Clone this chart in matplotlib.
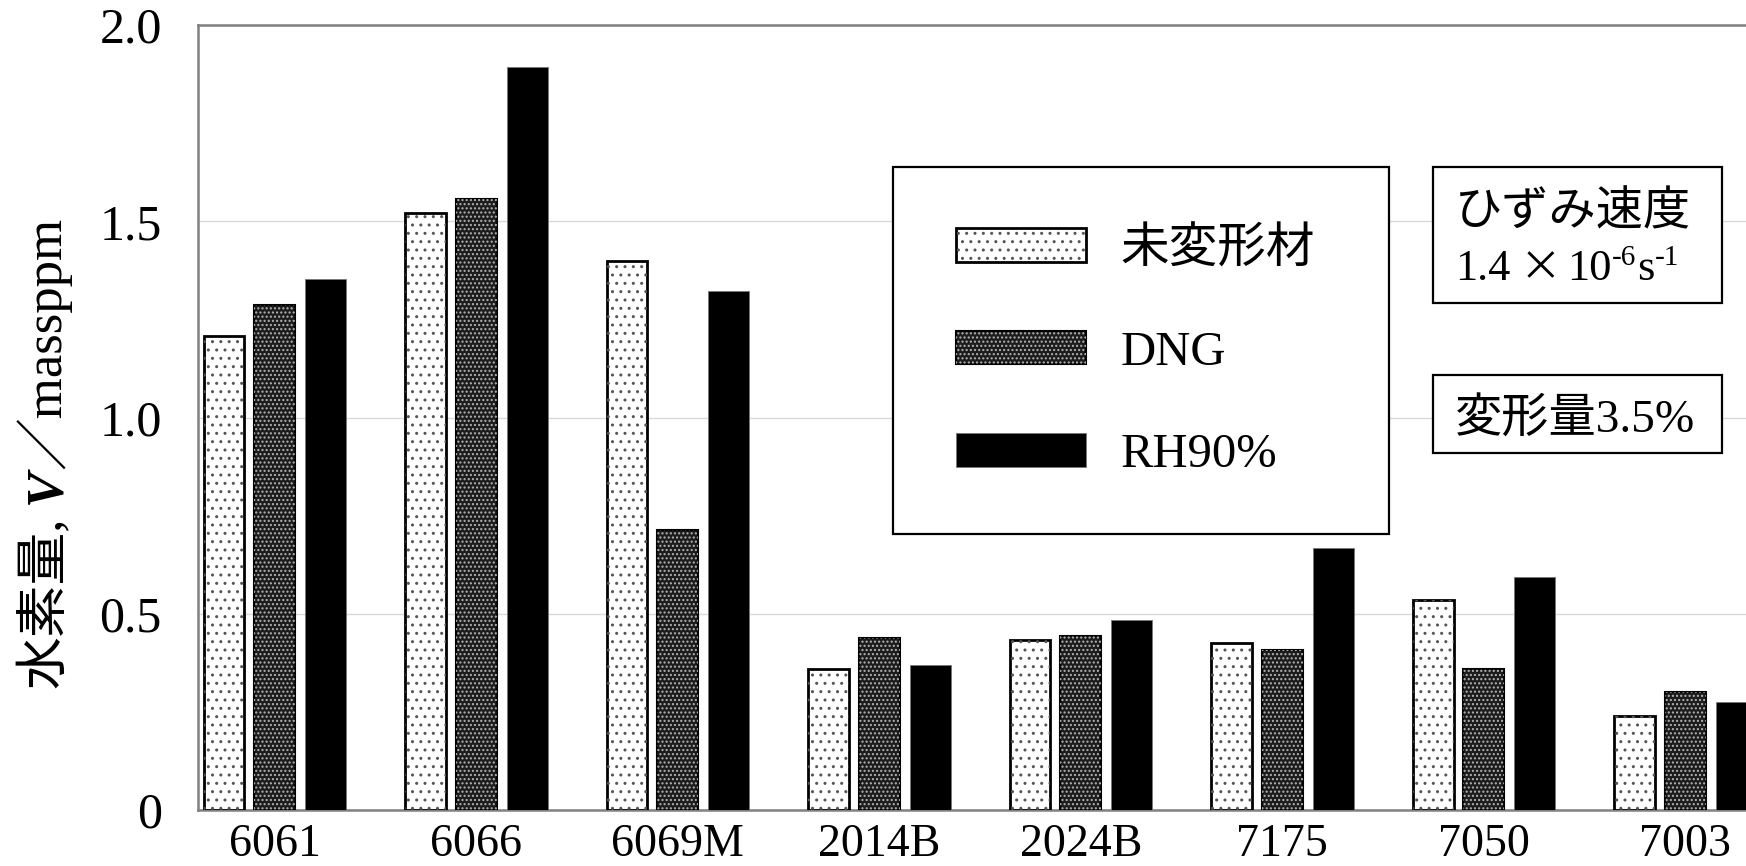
import numpy as np
import matplotlib
matplotlib.use("Agg")
import matplotlib.pyplot as plt
from matplotlib.patches import Rectangle
from matplotlib.legend_handler import HandlerTuple

# fonts: Times-like serif for latin, gothic for japanese
plt.rcParams['font.family'] = ['Liberation Serif', 'Noto Sans CJK JP']
plt.rcParams['hatch.linewidth'] = 1.0

# data
alloys = ['6061', '6066', '6069M', '2014B', '2024B', '7175', '7050', '7003']
undeformed = [1.207, 1.520, 1.400, 0.358, 0.434, 0.426, 0.535, 0.240]
dng = [1.286, 1.557, 0.713, 0.439, 0.443, 0.408, 0.359, 0.301]
rh90 = [1.354, 1.892, 1.323, 0.369, 0.483, 0.667, 0.593, 0.276]
series_names = ['未変形材', 'DNG', 'RH90%']
yticks = [0, 0.5, 1.0, 1.5, 2.0]
ytick_labels = ['0', '0.5', '1.0', '1.5', '2.0']

W, H = 1746, 866

def fx(px):
    return px / W

def fy(py):
    return 1 - py / H

fig = plt.figure(figsize=(W / 100, H / 100), dpi=100)
ax = fig.add_axes([fx(198), fy(810), 1 - fx(198), fy(25) - fy(810)])
renderer = fig.canvas.get_renderer()

x = np.arange(len(alloys))
bw = 0.203
step = 0.252

# undeformed: white with sparse grey dots, black outline
b1bg = ax.bar(x - step, undeformed, bw, facecolor='white', edgecolor='black',
              linewidth=2.0, zorder=3)
b1 = ax.bar(x - step, undeformed, bw, facecolor='none', edgecolor='#555555',
            linewidth=0, hatch='..', zorder=3.1)
# DNG: dark with fine light dots
b2bg = ax.bar(x, dng, bw, facecolor='#1c1c1c', edgecolor='black',
              linewidth=1.5, zorder=3)
b2 = ax.bar(x, dng, bw, facecolor='none', edgecolor='#b4b4b4',
            linewidth=0, hatch='....', zorder=3.1)
# RH90%: solid black
b3 = ax.bar(x + step, rh90, bw, facecolor='black', edgecolor='#777777',
            linewidth=0.6, zorder=3)

ax.set_xlim(-0.381, 7.301)
ax.set_ylim(0, 2.0)
ax.set_xticks(x)
ax.set_xticklabels(alloys)
ax.set_yticks(yticks)
ax.set_yticklabels(ytick_labels)
ax.tick_params(axis='y', length=0, labelsize=36, pad=26)
ax.tick_params(axis='x', length=0, labelsize=33, pad=10)

ax.yaxis.grid(True, color='#d9d9d9', linewidth=1.0)
ax.set_axisbelow(True)
ax.spines['right'].set_visible(False)
for s in ['left', 'top', 'bottom']:
    ax.spines[s].set_color('#808080')
    ax.spines[s].set_linewidth(1.8)

# legend with its own box
ax.add_patch(Rectangle((fx(893), fy(534)), fx(1389) - fx(893), fy(167) - fy(534),
                       transform=fig.transFigure, facecolor='white',
                       edgecolor='black', linewidth=1.6, zorder=5, clip_on=False))
leg = ax.legend([(b1bg, b1), (b2bg, b2), b3], series_names,
                handler_map={tuple: HandlerTuple(ndivide=1, pad=0)},
                loc='upper left', bbox_to_anchor=(fx(956), fy(227)),
                bbox_transform=fig.transFigure, frameon=False,
                borderpad=0, borderaxespad=0, handlelength=2.67,
                handleheight=0.68, handletextpad=0.72, labelspacing=1.2,
                fontsize=35)
leg.set_zorder(6)

# condition boxes
ax.add_patch(Rectangle((fx(1433), fy(303)), fx(1722) - fx(1433), fy(167) - fy(303),
                       transform=fig.transFigure, facecolor='white',
                       edgecolor='black', linewidth=1.6, zorder=5, clip_on=False))
ax.text(fx(1455), fy(225), 'ひずみ速度', transform=fig.transFigure,
        fontsize=34, ha='left', va='baseline', zorder=7)

# strain rate line built piece by piece (hyphen superscripts like the original)
# (text, size, rise, gap before, gap after)
rate_parts = [
    ('1.4', 32, 0, 0, 0),
    ('×', 30, 0, 9, 6),
    ('10', 32, 0, 0, 0),
    ('-6', 21, 15, 0, 1),
    ('s', 32, 0, 0, 1),
    ('-1', 21, 15, 0, 0),
]
xpos = 1455
for txt, size, rise, g0, g1 in rate_parts:
    fam = ['Noto Sans CJK JP'] if txt == '×' else ['Liberation Serif']
    t = ax.text(fx(xpos + g0), fy(280 - rise), txt, transform=fig.transFigure,
                fontsize=size, family=fam, ha='left', va='baseline', zorder=7)
    bb = t.get_window_extent(renderer)
    xpos += g0 + bb.width + g1

ax.add_patch(Rectangle((fx(1433), fy(453)), fx(1722) - fx(1433), fy(375) - fy(453),
                       transform=fig.transFigure, facecolor='white',
                       edgecolor='black', linewidth=1.6, zorder=5, clip_on=False))
ax.text(fx(1455), fy(433), '変形量3.5%', transform=fig.transFigure,
        fontsize=34, ha='left', va='baseline', zorder=7)

# y label built from pieces, stacked upward
label_parts = [
    ('水素量,', dict()),
    (' ', dict()),
    ('V', dict(family='Liberation Serif', weight='bold', style='italic')),
    ('／massppm', dict()),
]
ypos = H - 688
for txt, kw in label_parts:
    if txt == ' ':
        ypos += 12
        continue
    t = fig.text(fx(60), ypos / H, txt, rotation=90, rotation_mode='anchor',
                 ha='left', va='baseline', fontsize=38, **kw)
    bb = t.get_window_extent(renderer)
    ypos += bb.height

fig.savefig('out.png', dpi=100)
